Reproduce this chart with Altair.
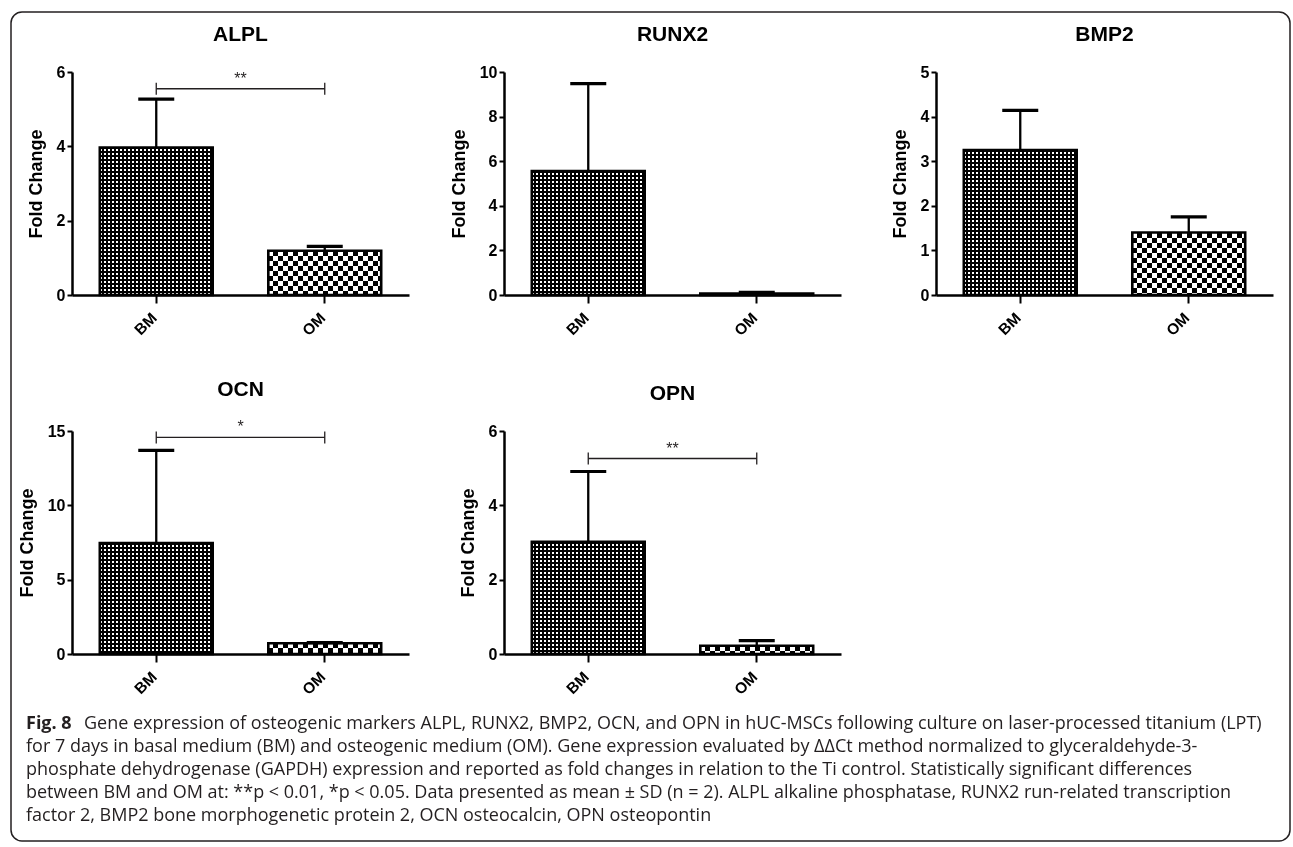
import altair as alt
import pandas as pd

# ---------------- data ----------------
genes = ["ALPL", "RUNX2", "BMP2", "OCN", "OPN"]
groups = ["BM", "OM"]

alpl_mean = [3.97, 1.19]
alpl_sd = [1.30, 0.12]
runx2_mean = [5.56, 0.07]
runx2_sd = [3.92, 0.05]
bmp2_mean = [3.25, 1.40]
bmp2_sd = [0.89, 0.35]
ocn_mean = [7.47, 0.72]
ocn_sd = [6.23, 0.04]
opn_mean = [3.02, 0.22]
opn_sd = [1.89, 0.14]

y_max = [6, 10, 5, 15, 6]
y_ticks = [[0, 2, 4, 6], [0, 2, 4, 6, 8, 10], [0, 1, 2, 3, 4, 5], [0, 5, 10, 15], [0, 2, 4, 6]]

sig_genes = ["ALPL", "OCN", "OPN"]
sig_labels = ["**", "*", "**"]
sig_levels = [5.55, 14.57, 5.26]

caption_bold = "Fig. 8"
caption_lines = [
    "Gene expression of osteogenic markers ALPL, RUNX2, BMP2, OCN, and OPN in hUC-MSCs following culture on laser-processed titanium (LPT)",
    "for 7 days in basal medium (BM) and osteogenic medium (OM). Gene expression evaluated by \u0394\u0394Ct method normalized to glyceraldehyde-3-",
    "phosphate dehydrogenase (GAPDH) expression and reported as fold changes in relation to the Ti control. Statistically significant differences",
    "between BM and OM at: **p < 0.01, *p < 0.05. Data presented as mean \u00b1 SD (n = 2). ALPL alkaline phosphatase, RUNX2 run-related transcription",
    "factor 2, BMP2 bone morphogenetic protein 2, OCN osteocalcin, OPN osteopontin",
]

# ---------------- styling ----------------
W, H = 337, 223
PAD_IN, PAD_OUT = 0.33, 0.165
STEP = W / (len(groups) - PAD_IN + 2 * PAD_OUT)
BAR_W = STEP * (1 - PAD_IN)
FONT = "Liberation Sans"
CAP_FONT = "Open Sans"
CAP_SIZE = 18
INK = "#231f20"


def stripe_gradient(length_px, period, on_px, c_on, c_off, along_y):
    length_px = max(length_px, 1.0)
    stops = []
    k = 0
    while k * period < length_px:
        a = k * period / length_px
        b = min((k * period + on_px) / length_px, 1.0)
        c = min((k + 1) * period / length_px, 1.0)
        stops += [
            alt.GradientStop(offset=a, color=c_on),
            alt.GradientStop(offset=b, color=c_on),
            alt.GradientStop(offset=b, color=c_off),
            alt.GradientStop(offset=c, color=c_off),
        ]
        k += 1
    if along_y:
        return alt.LinearGradient(gradient="linear", stops=stops, x1=0, x2=0, y1=0, y2=1)
    return alt.LinearGradient(gradient="linear", stops=stops, x1=0, x2=1, y1=0, y2=0)


x_axis = alt.Axis(
    labelAngle=-45, labelAlign="right", labelBaseline="middle", labelOffset=-2,
    labelFont=FONT, labelFontSize=15.5, labelFontWeight="bold",
    labelColor="black", tickSize=8, tickWidth=2, tickColor="black",
    domainWidth=2.5, domainColor="black", labelPadding=12, grid=False,
)


def y_axis(ticks):
    return alt.Axis(
        values=ticks, grid=False, domainWidth=2.5, domainColor="black",
        tickSize=5, tickWidth=2, tickColor="black",
        labelFont=FONT, labelFontSize=16, labelFontWeight="bold", labelColor="black",
        labelPadding=2, titleFont=FONT, titleFontSize=18, titleFontWeight="bold",
        titleColor="black", titlePadding=11,
    )


def panel(i, gene, mean, sd):
    ymax = y_max[i]
    df = pd.DataFrame({"group": groups, "mean": mean, "sd": sd})
    df["upper"] = df["mean"] + df["sd"]

    x = alt.X("group:N", title=None, sort=groups,
              scale=alt.Scale(domain=groups, paddingInner=PAD_IN, paddingOuter=PAD_OUT),
              axis=x_axis)

    def y(field):
        return alt.Y(f"{field}:Q", title="Fold Change",
                     scale=alt.Scale(domain=[0, ymax], nice=False, zero=True),
                     axis=y_axis(y_ticks[i]))

    base = alt.Chart(df)
    layers = []
    for g, m in zip(groups, mean):
        h = m / ymax * H
        sel = base.transform_filter(alt.datum.group == g)
        if g == "BM":
            v = stripe_gradient(BAR_W, 4, 2, "white", "black", False)
            hz = stripe_gradient(h, 4, 2, "black", "white", True)
            blend = "multiply"
        else:
            v = stripe_gradient(BAR_W, 10, 5, "black", "white", False)
            hz = stripe_gradient(h, 10, 5, "white", "black", True)
            blend = "difference"
        layers.append(sel.mark_bar(fill=v, strokeWidth=0).encode(x=x, y=y("mean")))
        layers.append(sel.mark_bar(fill=hz, strokeWidth=0, blend=blend).encode(x=x, y=y("mean")))

    layers.append(base.mark_bar(fillOpacity=0, stroke="black", strokeWidth=2.6)
                  .encode(x=x, y=y("mean")))
    layers.append(base.mark_rule(strokeWidth=2.3, color="black")
                  .encode(x=x, y=y("mean"), y2="upper:Q"))
    layers.append(base.mark_tick(thickness=3.2, size=36, color="black", opacity=1)
                  .encode(x=x, y=y("upper")))

    if gene in sig_genes:
        j = sig_genes.index(gene)
        bdf = pd.DataFrame({"group": groups, "level": [sig_levels[j]] * 2})
        layers.append(alt.Chart(bdf).mark_line(color=INK, strokeWidth=1.3)
                      .encode(x=x, y=y("level")))
        layers.append(alt.Chart(bdf).mark_rule(color=INK, strokeWidth=1.3, yOffset=-6, y2Offset=6)
                      .encode(x=x, y=y("level"), y2="level:Q"))
        sdf = pd.DataFrame({"group": ["BM"], "level": [sig_levels[j]], "label": [sig_labels[j]]})
        layers.append(alt.Chart(sdf).mark_text(dx=STEP / 2, dy=-5, fontSize=16, font=FONT,
                                               color=INK, baseline="alphabetic")
                      .encode(x=x, y=y("level"), text="label:N"))

    return alt.layer(*layers).properties(
        width=W, height=H,
        title=alt.TitleParams(gene, fontSize=21, font=FONT, fontWeight="bold", color="black",
                              anchor="middle", frame="group", offset=19),
    )


means = [alpl_mean, runx2_mean, bmp2_mean, ocn_mean, opn_mean]
sds = [alpl_sd, runx2_sd, bmp2_sd, ocn_sd, opn_sd]
panels = [panel(i, g, means[i], sds[i]) for i, g in enumerate(genes)]

# ---------------- caption ----------------
cap_df = pd.DataFrame({"row": list(range(len(caption_lines))), "text": caption_lines})
cap_y = alt.Y("row:O", axis=None,
              scale=alt.Scale(domain=list(range(len(caption_lines))), paddingInner=0, paddingOuter=0))
cap_base = alt.Chart(cap_df)
frame = alt.Chart(pd.DataFrame({"k": [0]})).mark_rect(
    fillOpacity=0, stroke=INK, strokeWidth=1.5, cornerRadius=11
).encode(x=alt.value(-61), x2=alt.value(1218), y=alt.value(-700), y2=alt.value(129))
bold = alt.Chart(pd.DataFrame({"row": [0], "text": [caption_bold]})).mark_text(
    align="left", baseline="alphabetic", dy=5, font=CAP_FONT, fontSize=CAP_SIZE,
    fontWeight="bold", color=INK
).encode(x=alt.value(-46), y=cap_y, text="text:N")
first = cap_base.transform_filter(alt.datum.row == 0).mark_text(
    align="left", baseline="alphabetic", dy=5, font=CAP_FONT, fontSize=CAP_SIZE, color=INK
).encode(x=alt.value(12), y=cap_y, text="text:N")
rest = cap_base.transform_filter(alt.datum.row > 0).mark_text(
    align="left", baseline="alphabetic", dy=5, font=CAP_FONT, fontSize=CAP_SIZE, color=INK
).encode(x=alt.value(-46), y=cap_y, text="text:N")
caption = alt.layer(frame, bold, first, rest).properties(width=W, height=116)

# invisible spacer cell used to open the gap between the two rows of panels
spacer = alt.Chart(pd.DataFrame({"k": [0]})).mark_point(opacity=0).encode(
    x=alt.value(0), y=alt.value(0)
).properties(width=W, height=20)

chart = alt.concat(
    panels[0], panels[1], panels[2],
    spacer, spacer, spacer,
    panels[3], panels[4], spacer,
    caption,
    columns=3, spacing={"row": 58, "column": 95}, bounds="flush",
).properties(
    padding={"left": 10, "top": 11, "right": 1, "bottom": 4},
    background="white",
).configure_view(strokeWidth=0)

chart.save("out.html", embed_options={"renderer": "svg", "actions": False})
